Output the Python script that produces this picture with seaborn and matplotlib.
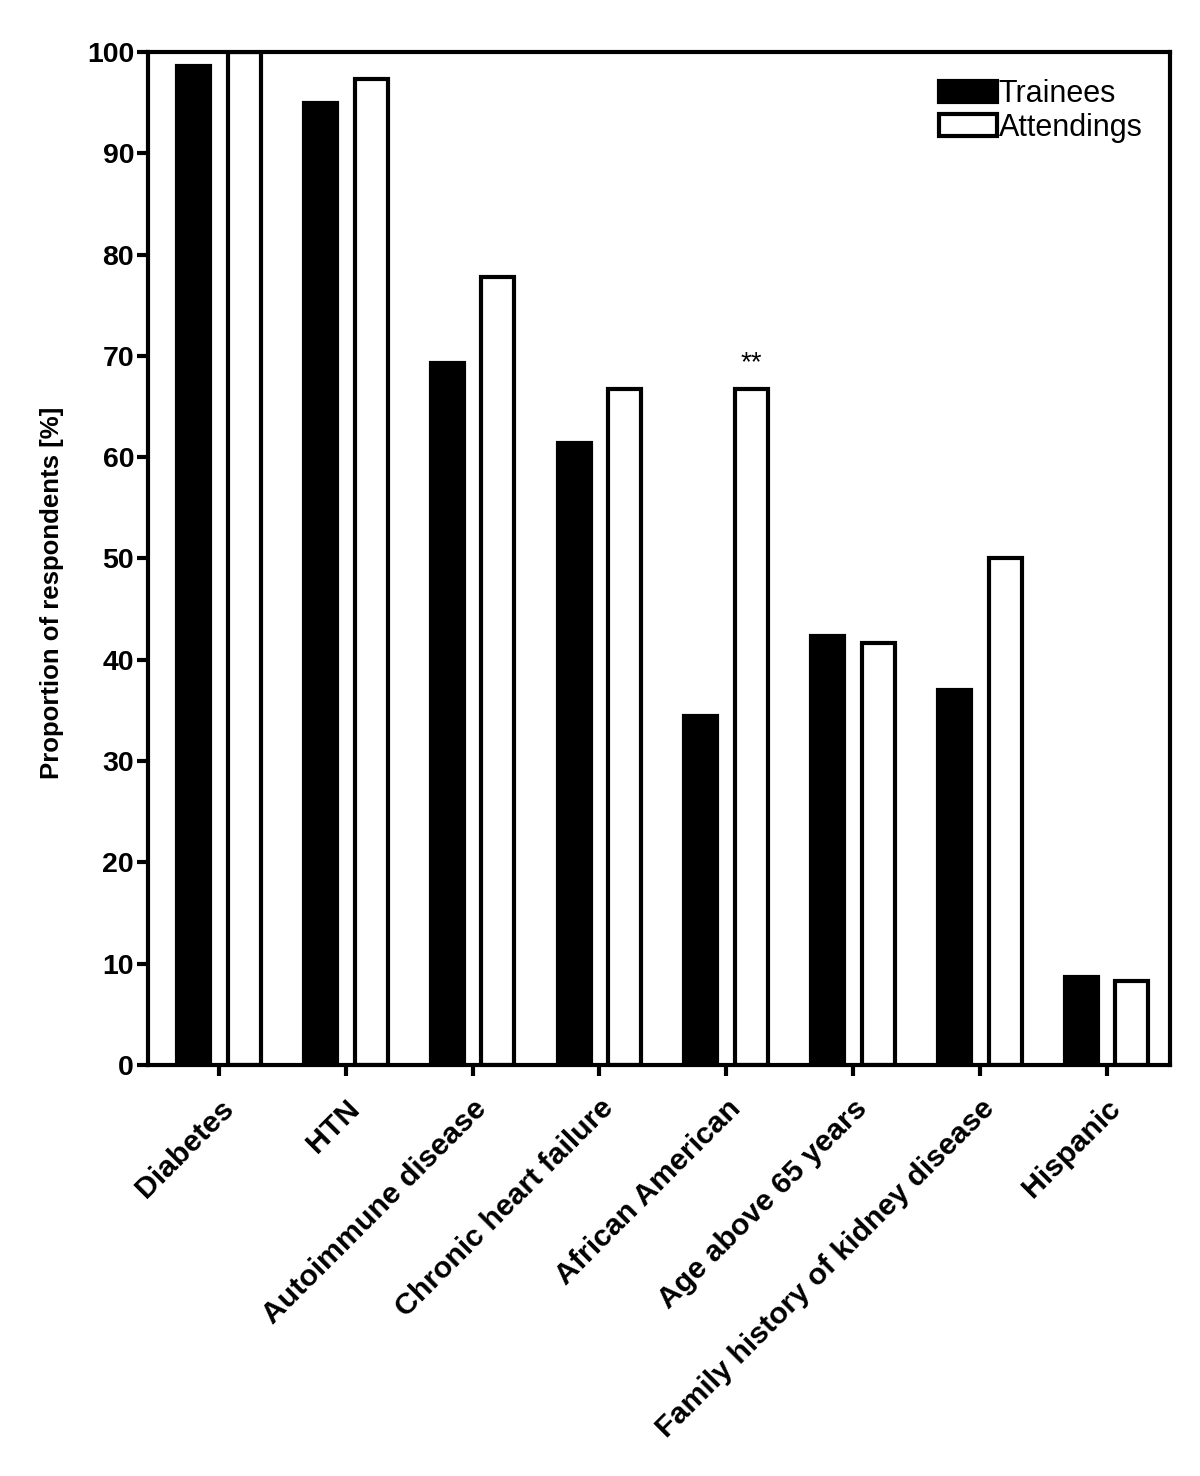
import pandas as pd
import seaborn as sns
import matplotlib.pyplot as plt
from matplotlib.patches import Patch

categories = ["Diabetes", "HTN", "Autoimmune disease", "Chronic heart failure",
              "African American", "Age above 65 years",
              "Family history of kidney disease", "Hispanic"]
trainees = [98.6, 95.0, 69.3, 61.4, 34.4, 42.3, 37.0, 8.7]
attendings = [100.0, 97.3, 77.8, 66.7, 66.7, 41.7, 50.0, 8.3]
groups = ["Trainees", "Attendings"]

df = pd.DataFrame({
    "category": categories * 2,
    "group": [groups[0]] * len(categories) + [groups[1]] * len(categories),
    "value": trainees + attendings,
})

sns.set_style("ticks")
plt.rcParams['font.family'] = ['Liberation Sans', 'DejaVu Sans']
plt.rcParams['text.color'] = 'black'
plt.rcParams['axes.edgecolor'] = 'black'
plt.rcParams['xtick.color'] = 'black'
plt.rcParams['ytick.color'] = 'black'
plt.rcParams['axes.labelcolor'] = 'black'

fig = plt.figure(figsize=(12, 14.76), dpi=100)
ax = fig.add_axes([0.1233, 0.2785, 0.8517, 0.6863])

sns.barplot(data=df, x="category", y="value", hue="group", order=categories,
            hue_order=groups, palette={"Trainees": "black", "Attendings": "white"},
            edgecolor="black", linewidth=3.0, width=0.8, gap=0.35,
            errorbar=None, legend=False, ax=ax)

ax.set_ylim(0, 100)
ax.set_yticks(range(0, 101, 10))
ax.set_xlim(-0.56, 7.5)
ax.set_xlabel("")
ax.set_ylabel("Proportion of respondents [%]", fontsize=18.5, fontweight="bold")
ax.yaxis.set_label_coords(-0.082, 0.466)

for s in ax.spines.values():
    s.set_linewidth(3)
    s.set_visible(True)
ax.tick_params(axis="both", width=3, length=8, direction="out")
ax.tick_params(axis="y", labelsize=20.5, pad=2)
ax.tick_params(axis="x", pad=13)
for lab in ax.get_yticklabels():
    lab.set_fontweight("bold")
ax.set_xticks(range(len(categories)))
ax.set_xticklabels(categories, rotation=45, ha="right", rotation_mode="anchor",
                   fontsize=21.8, fontweight="bold")

# significance marker over African American attendings
ax.text(4.2, 68.0, "**", ha="center", va="bottom", fontsize=20)

handles = [Patch(facecolor="black", edgecolor="black", linewidth=3),
           Patch(facecolor="white", edgecolor="black", linewidth=3)]
ax.legend(handles, groups, loc="upper right", frameon=False, fontsize=22,
          handlelength=1.9, handleheight=0.7, handletextpad=0.05,
          labelspacing=0.1, borderaxespad=0.5)

fig.savefig("out.png", dpi=100)
